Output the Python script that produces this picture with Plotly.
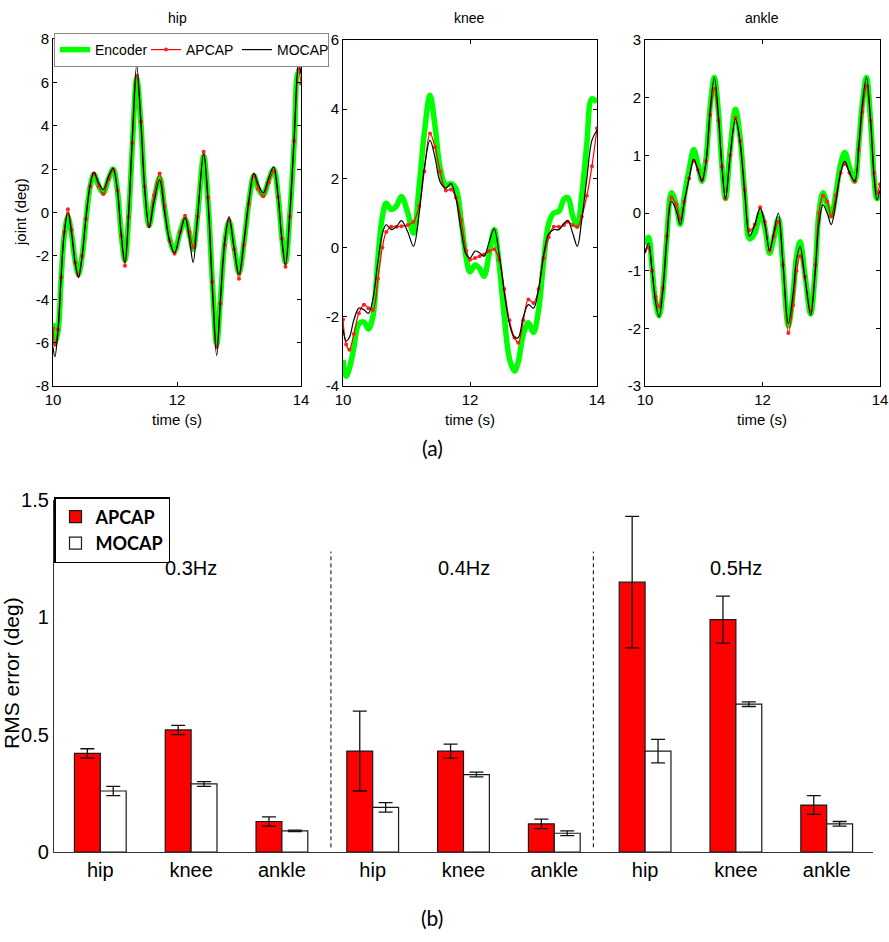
import plotly.graph_objects as go

W, H = 889, 942

# ---------------- time-series data ----------------
hip_t = [10.00, 10.03, 10.08, 10.13, 10.18, 10.24, 10.30, 10.36, 10.41, 10.47, 10.53, 10.60, 10.66, 10.74,
         10.81, 10.90, 10.97, 11.04, 11.10, 11.16, 11.22, 11.28, 11.35, 11.42, 11.48, 11.55, 11.63, 11.72,
         11.80, 11.88, 11.96, 12.05, 12.13, 12.20, 12.26, 12.33, 12.43, 12.50, 12.57, 12.64, 12.70, 12.77,
         12.84, 12.92, 13.00, 13.08, 13.16, 13.24, 13.31, 13.39, 13.48, 13.56, 13.63, 13.69, 13.75, 13.82,
         13.89, 13.96, 14.00]
hip_mocap = [-6.2, -6.65, -5.5, -3.0, -1.0, 0.0, -1.0, -2.4, -3.0, -2.0, -0.3, 1.3, 1.85, 1.35,
             1.05, 1.7, 2.05, 1.0, -1.0, -2.3, 0.0, 3.5, 6.8, 4.0, 1.0, -0.7, 0.5, 1.5,
             0.0, -1.3, -1.86, -1.0, -0.25, -1.2, -2.3, -0.3, 2.7, 0.5, -3.5, -6.6, -4.0, -1.3,
             -0.2, -1.6, -2.85, -1.3, 0.6, 1.82, 1.3, 0.9, 1.6, 2.1, 0.8, -1.2, -2.4, 0.0,
             3.5, 6.9, 6.4]
hip_apcap = [-5.35, -6.1, -5.4, -3.0, -0.9, 0.15, -0.8, -2.3, -2.9, -2.0, -0.3, 1.2, 1.8, 1.2,
             0.85, 1.55, 1.95, 1.0, -1.1, -2.45, -0.2, 3.2, 6.3, 4.2, 1.2, -0.6, 0.8, 1.8,
             0.3, -1.3, -1.9, -0.9, -0.15, -0.9, -1.6, -0.2, 2.8, 0.7, -3.2, -6.2, -4.2, -1.5,
             -0.35, -1.7, -3.05, -1.5, 0.4, 1.7, 1.1, 0.75, 1.4, 1.9, 0.7, -1.2, -2.5, -0.2,
             3.3, 6.6, 5.95]
hip_encoder = [-5.1, -6.0, -5.5, -3.1, -1.1, -0.2, -1.0, -2.3, -2.85, -2.0, -0.4, 1.2, 1.75, 1.2,
               0.9, 1.6, 2.0, 1.0, -1.0, -2.2, -0.2, 3.1, 6.2, 4.0, 1.0, -0.6, 0.6, 1.6,
               0.2, -1.2, -1.8, -0.9, -0.3, -1.0, -1.7, -0.2, 2.6, 0.5, -3.2, -6.1, -4.0, -1.4,
               -0.4, -1.6, -2.8, -1.4, 0.5, 1.7, 1.1, 0.8, 1.5, 2.0, 0.8, -1.1, -2.3, -0.1,
               3.2, 6.5, 6.4]

knee_t = [10.00, 10.05, 10.10, 10.17, 10.25, 10.33, 10.40, 10.47, 10.55, 10.62, 10.68, 10.76, 10.84,
          10.92, 11.02, 11.11, 11.20, 11.28, 11.37, 11.45, 11.53, 11.62, 11.70, 11.78, 11.86, 11.94,
          12.00, 12.08, 12.15, 12.22, 12.30, 12.38, 12.46, 12.54, 12.62, 12.70, 12.76, 12.84, 12.92,
          13.00, 13.08, 13.16, 13.24, 13.32, 13.40, 13.48, 13.54, 13.62, 13.69, 13.76, 13.84, 13.92,
          14.00]
knee_mocap = [-2.35, -2.7, -2.6, -2.1, -1.75, -1.8, -1.9, -1.5, -0.4, 0.4, 0.66, 0.52, 0.6,
              0.78, 0.45, 0.04, 1.0, 2.3, 3.1, 2.6, 1.9, 1.72, 1.85, 1.4, 0.5, -0.2,
              -0.3, -0.1, -0.15, -0.25, 0.15, 0.54, -0.2, -1.3, -2.2, -2.6, -2.6, -2.0, -1.65,
              -1.75, -1.2, -0.2, 0.4, 0.52, 0.52, 0.7, 0.78, 0.4, 0.04, 0.8, 2.0, 3.1,
              3.4]
knee_apcap = [-2.08, -2.8, -2.95, -2.5, -1.9, -1.65, -1.75, -1.8, -0.9, 0.0, 0.45, 0.6, 0.6,
              0.62, 0.65, 0.75, 1.2, 2.2, 3.3, 2.9, 2.2, 1.65, 1.68, 1.45, 0.8, -0.1,
              -0.35, -0.3, -0.25, -0.2, -0.1, -0.05, -0.35, -1.2, -2.1, -2.6, -2.75, -2.1, -1.5,
              -1.6, -1.2, -0.3, 0.3, 0.6, 0.6, 0.65, 0.75, 0.65, 0.6, 0.9, 1.5, 2.35,
              3.45]
knee_encoder = [-3.25, -3.72, -3.5, -2.9, -2.2, -2.15, -2.35, -2.0, -0.3, 0.9, 1.28, 1.1, 1.2,
                1.48, 1.0, 0.42, 1.8, 3.3, 4.4, 3.5, 2.3, 1.8, 1.85, 1.7, 0.8, -0.3,
                -0.7, -0.5, -0.6, -0.83, -0.2, 0.52, -0.5, -2.0, -3.2, -3.57, -3.3, -2.5, -2.17,
                -2.45, -1.8, -0.4, 0.7, 1.0, 1.05, 1.4, 1.45, 0.9, 0.62, 1.5, 3.0, 4.3,
                4.2]

ankle_t = [10.00, 10.06, 10.12, 10.18, 10.24, 10.30, 10.37, 10.45, 10.53, 10.60, 10.67, 10.75, 10.83,
           10.90, 10.97, 11.04, 11.11, 11.18, 11.25, 11.31, 11.37, 11.45, 11.54, 11.62, 11.70, 11.78,
           11.87, 11.96, 12.04, 12.12, 12.19, 12.27, 12.35, 12.44, 12.52, 12.58, 12.64, 12.72, 12.82,
           12.90, 12.96, 13.03, 13.10, 13.17, 13.25, 13.33, 13.40, 13.48, 13.57, 13.64, 13.70, 13.77,
           13.84, 13.90, 13.95, 14.00]
ankle_mocap = [-0.7, -0.52, -1.0, -1.55, -1.8, -1.4, -0.5, 0.2, 0.05, -0.2, 0.2, 0.6, 0.93,
               0.75, 0.55, 0.9, 1.8, 2.35, 1.7, 0.8, 0.25, 1.0, 1.63, 1.2, 0.3, -0.4,
               -0.2, 0.08, -0.2, -0.65, -0.35, 0.0, -0.9, -1.92, -1.4, -0.8, -0.58, -1.1, -1.77,
               -1.0, -0.2, 0.14, 0.0, -0.2, 0.2, 0.7, 0.9, 0.7, 0.55, 1.2, 1.9, 2.35,
               1.6, 0.6, 0.23, 0.4]
ankle_apcap = [-0.65, -0.6, -1.0, -1.45, -1.62, -1.3, -0.4, 0.27, 0.15, -0.1, 0.2, 0.6, 0.9,
               0.75, 0.58, 0.9, 1.7, 2.15, 1.6, 0.8, 0.25, 1.0, 1.65, 1.25, 0.4, -0.3,
               -0.2, 0.1, -0.15, -0.65, -0.4, -0.15, -0.9, -2.08, -1.6, -1.0, -0.75, -1.1, -1.7,
               -0.9, 0.0, 0.3, 0.2, -0.05, 0.3, 0.7, 0.85, 0.7, 0.55, 1.1, 1.75, 2.2,
               1.6, 0.7, 0.35, 0.5]
ankle_encoder = [-0.55, -0.42, -0.95, -1.55, -1.78, -1.4, -0.45, 0.35, 0.15, -0.2, 0.3, 0.75, 1.1,
                 0.85, 0.55, 0.95, 1.85, 2.35, 1.75, 0.8, 0.25, 1.1, 1.8, 1.3, 0.3, -0.45,
                 -0.35, 0.0, -0.25, -0.7, -0.45, -0.1, -0.95, -1.95, -1.4, -0.75, -0.5, -1.05, -1.75,
                 -0.95, 0.0, 0.35, 0.15, -0.05, 0.35, 0.85, 1.05, 0.8, 0.55, 1.2, 1.9, 2.35,
                 1.6, 0.6, 0.25, 0.3]

hip_yticks = [-8, -6, -4, -2, 0, 2, 4, 6, 8]
knee_yticks = [-4, -2, 0, 2, 4, 6]
ankle_yticks = [-3, -2, -1, 0, 1, 2, 3]
time_ticks = [10, 12, 14]

# ---------------- bar chart data ----------------
bar_labels = ["hip", "knee", "ankle", "hip", "knee", "ankle", "hip", "knee", "ankle"]
bar_pos = [1, 2, 3, 4, 5, 6, 7, 8, 9]
apcap_rms = [0.42, 0.52, 0.13, 0.43, 0.43, 0.12, 1.15, 0.99, 0.20]
apcap_err = [0.02, 0.02, 0.02, 0.17, 0.03, 0.02, 0.28, 0.10, 0.04]
mocap_rms = [0.26, 0.29, 0.09, 0.19, 0.33, 0.08, 0.43, 0.63, 0.12]
mocap_err = [0.02, 0.01, 0.003, 0.02, 0.01, 0.01, 0.05, 0.01, 0.01]
freq_labels = ["0.3Hz", "0.4Hz", "0.5Hz"]
freq_label_pos = [2, 5, 8]
freq_label_y = 1.21
separator_pos = [3.54, 6.43]
bar_yticks = [0, 0.5, 1, 1.5]
bar_yticktext = ["0", "0.5", "1", "1.5"]


def fx(p):
    return p / W


def fy(p):
    return 1 - p / H


FONT = "Liberation Sans, Arial, sans-serif"
CAL = "Lato, Open Sans, sans-serif"

fig = go.Figure()

joints = [
    ("hip", hip_t, hip_encoder, hip_apcap, hip_mocap, "x", "y"),
    ("knee", knee_t, knee_encoder, knee_apcap, knee_mocap, "x2", "y2"),
    ("ankle", ankle_t, ankle_encoder, ankle_apcap, ankle_mocap, "x3", "y3"),
]
for i, (name, t, enc, ap, mo, xa, ya) in enumerate(joints):
    first = i == 0
    fig.add_trace(go.Scatter(x=t, y=enc, mode="lines", name="Encoder",
                             line=dict(color="#00FF00", width=5.5, shape="spline"),
                             showlegend=first, legend="legend", xaxis=xa, yaxis=ya))
    fig.add_trace(go.Scatter(x=t, y=ap, mode="lines+markers", name="APCAP",
                             line=dict(color="#FF0000", width=1.2, shape="spline"),
                             marker=dict(color="#FF2020", size=4, symbol="circle"),
                             showlegend=first, legend="legend", xaxis=xa, yaxis=ya))
    fig.add_trace(go.Scatter(x=t, y=mo, mode="lines", name="MOCAP",
                             line=dict(color="black", width=1.2, shape="spline"),
                             showlegend=first, legend="legend", xaxis=xa, yaxis=ya))

fig.add_trace(go.Bar(x=bar_pos, y=apcap_rms, name="APCAP", legend="legend2",
                     marker=dict(color="#FF0000", line=dict(color="#1a1a1a", width=1.2)),
                     error_y=dict(type="data", array=apcap_err, color="#111", thickness=1.3, width=7),
                     xaxis="x4", yaxis="y4"))
fig.add_trace(go.Bar(x=bar_pos, y=mocap_rms, name="MOCAP", legend="legend2",
                     marker=dict(color="white", line=dict(color="#1a1a1a", width=1.2)),
                     error_y=dict(type="data", array=mocap_err, color="#111", thickness=1.3, width=7),
                     xaxis="x4", yaxis="y4"))

top_axis = dict(showline=True, linecolor="black", linewidth=1, mirror="ticks", ticks="inside",
                ticklen=4, tickcolor="black", showgrid=False, zeroline=False, automargin=False,
                ticklabeloverflow="allow",
                tickfont=dict(family=FONT, size=15, color="black"))

doms = {
    "hip": ([fx(53), fx(301)], [fy(386), fy(39)]),
    "knee": ([fx(343), fx(597)], [fy(386), fy(40)]),
    "ankle": ([fx(645), fx(880)], [fy(386), fy(40)]),
}
yranges = {"hip": [-8, 8], "knee": [-4, 6], "ankle": [-3, 3]}
yticks = {"hip": hip_yticks, "knee": knee_yticks, "ankle": ankle_yticks}

layout = dict(
    width=W, height=H, margin=dict(l=0, r=0, t=0, b=0, autoexpand=False),
    paper_bgcolor="white", plot_bgcolor="white",
    barmode="group", bargap=0.43, bargroupgap=0,
    font=dict(family=FONT, color="black"),
)
for i, name in enumerate(["hip", "knee", "ankle"]):
    sx = "" if i == 0 else str(i + 1)
    xd, yd = doms[name]
    layout["xaxis" + sx] = dict(top_axis, domain=xd, range=[10, 14], anchor="y" + sx,
                                tickvals=time_ticks, ticktext=[str(v) for v in time_ticks])
    layout["yaxis" + sx] = dict(top_axis, domain=yd, range=yranges[name], anchor="x" + sx,
                                tickvals=yticks[name], ticktext=[str(v) for v in yticks[name]])

layout["xaxis4"] = dict(domain=[fx(54), fx(873)], range=[0.49, 9.51], anchor="y4",
                        showline=True, linecolor="#333", linewidth=1.2, ticks="", automargin=False,
                        showgrid=False, zeroline=False, tickvals=bar_pos, ticktext=bar_labels,
                        ticklabeloverflow="allow",
                        tickfont=dict(family=FONT, size=20, color="black"))
layout["yaxis4"] = dict(domain=[fy(852), fy(500)], range=[0, 1.5], anchor="x4",
                        showline=True, linecolor="#333", linewidth=1.2, ticks="", automargin=False,
                        showgrid=False, zeroline=False, tickvals=bar_yticks, ticktext=bar_yticktext,
                        tickfont=dict(family=FONT, size=20, color="black"))

layout["legend"] = dict(orientation="h", x=fx(54), y=fy(33), xanchor="left", yanchor="top",
                        bgcolor="white", bordercolor="#888", borderwidth=1,
                        font=dict(family=FONT, size=14, color="black"),
                        itemwidth=30, entrywidth=46, tracegroupgap=0)
layout["legend2"] = dict(orientation="v", x=fx(54), y=fy(497), xanchor="left", yanchor="top",
                         bgcolor="white", bordercolor="black", borderwidth=1.5,
                         font=dict(family=CAL, size=18, color="black", weight="bold"))

shapes = []
for sx_ in separator_pos:
    shapes.append(dict(type="line", xref="x4", yref="y4", x0=sx_, x1=sx_, y0=0.02, y1=1.28,
                       line=dict(color="black", width=1, dash="4px,3px")))
layout["shapes"] = shapes

ann = []
for name in ["hip", "knee", "ankle"]:
    xd, yd = doms[name]
    xc = (xd[0] + xd[1]) / 2
    ann.append(dict(text=name, x=xc, y=fy(18), xref="paper", yref="paper", showarrow=False,
                    font=dict(family=FONT, size=14), xanchor="center", yanchor="middle"))
    ann.append(dict(text="time (s)", x=xc, y=fy(419), xref="paper", yref="paper", showarrow=False,
                    font=dict(family=FONT, size=15), xanchor="center", yanchor="middle"))
ann.append(dict(text="joint (deg)", x=fx(21), y=fy(212), xref="paper", yref="paper", showarrow=False,
                textangle=-90, font=dict(family=FONT, size=15), xanchor="center", yanchor="middle"))
ann.append(dict(text="RMS error (deg)", x=fx(11), y=fy(673), xref="paper", yref="paper", showarrow=False,
                textangle=-90, font=dict(family=FONT, size=21), xanchor="center", yanchor="middle"))
ann.append(dict(text="(a)", x=fx(432), y=fy(447), xref="paper", yref="paper", showarrow=False,
                font=dict(family=CAL, size=21), xanchor="center", yanchor="middle"))
ann.append(dict(text="(b)", x=fx(432), y=fy(917), xref="paper", yref="paper", showarrow=False,
                font=dict(family=CAL, size=21), xanchor="center", yanchor="middle"))
for lab, xp in zip(freq_labels, freq_label_pos):
    ann.append(dict(text=lab, x=xp, y=freq_label_y, xref="x4", yref="y4", showarrow=False,
                    font=dict(family=FONT, size=20), xanchor="center", yanchor="middle"))
layout["annotations"] = ann

fig.update_layout(**layout)
fig.write_html("out.html", config={"displayModeBar": False},
               post_script="document.body.style.margin='0';document.body.style.overflow='hidden';")
